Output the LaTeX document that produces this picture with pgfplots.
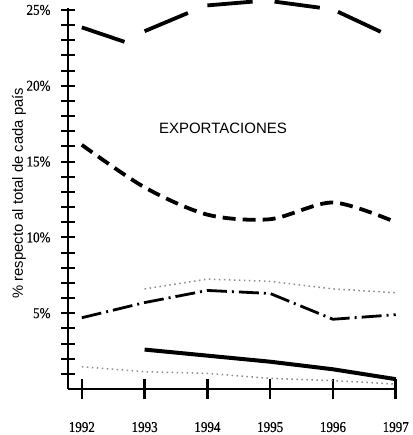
\documentclass[border=0pt]{standalone}
\usepackage{fontspec}
\setmainfont{Liberation Serif}
\newfontfamily\arial{Liberation Sans}
\newfontfamily\tickfont{Liberation Serif}[FakeStretch=0.87,FakeBold=0.4]
\usepackage{pgfplots}
\pgfplotsset{compat=1.18}
\begin{document}
\begin{tikzpicture}
\useasboundingbox (-68pt,-46pt) rectangle (344pt,389pt);
\begin{axis}[
 at={(0pt,0pt)}, anchor=south west,
 scale only axis, width=329pt, height=381pt,
 xmin=1991.78, xmax=1997.02, ymin=0, ymax=25.13,
 axis x line=bottom, axis y line=left,
 axis line style={-, line width=2.6pt},
 xtick={1992,1993,1994,1995,1996,1997},
 xticklabels={1992,1993,1994,1995,1996,1997},
 ytick={5,10,15,20,25},
 yticklabels={5\%,10\%,15\%,20\%,25\%},
 minor ytick={1,2,3,4,6,7,8,9,11,12,13,14,16,17,18,19,21,22,23,24},
 tick align=center,
 major tick length=14pt, minor tick length=14pt,
 xtick style={line width=2.6pt, black, /pgfplots/major tick length=20pt},
 ytick style={line width=2pt, black},
 minor y tick style={line width=2pt, black},
 xticklabel style={font=\tickfont\fontsize{15}{17}\selectfont, yshift=-22.5pt},
 yticklabel style={font=\tickfont\fontsize{15}{17}\selectfont, xshift=-7pt},
 clip=false,
 ylabel={\% respecto al total de cada país},
 ylabel style={font=\arial\fontsize{14.8}{17}\selectfont, at={(axis description cs:-0.149,0.514)}, anchor=center},
]
% long dashes (drawn segment by segment)
\addplot[black, line width=3.8pt, unbounded coords=jump] coordinates {
 (1992,23.85)(1992.68,22.9) (1992.8,nan)
 (1993.0,23.6)(1993.69,24.8) (1993.8,nan)
 (1994.0,25.3)(1994.72,25.55) (1994.9,nan)
 (1995.07,25.55)(1995.79,25.15) (1995.9,nan)
 (1996.08,24.88)(1996.76,23.56)};
% short dashes
\addplot[black, line width=3.8pt, smooth, tension=0.5, dash pattern=on 13pt off 7pt] coordinates {
 (1992,16.1)(1993,13.3)(1994,11.5)(1995,11.2)(1996,12.3)(1997,11.0)};
% dash-dot
\addplot[black, line width=2.8pt, dash pattern=on 20pt off 5pt on 2pt off 5pt] coordinates {
 (1992,4.7)(1993,5.7)(1994,6.5)(1995,6.3)(1996,4.6)(1997,4.9)};
% light dotted upper
\addplot[black!45, line width=1.5pt, dash pattern=on 1.5pt off 3.5pt] coordinates {
 (1993,6.6)(1994,7.25)(1995,7.1)(1996,6.6)(1997,6.35)};
% solid
\addplot[black, line width=4pt] coordinates {
 (1993,2.6)(1994,2.2)(1995,1.8)(1996,1.3)(1997,0.65)};
% light dotted lower
\addplot[black!45, line width=1.5pt, dash pattern=on 1.5pt off 3.5pt] coordinates {
 (1992,1.47)(1993,1.14)(1994,1.03)(1995,0.7)(1996,0.55)(1997,0.33)};
\node[font=\arial\fontsize{15}{17}\selectfont] at (axis description cs:0.471,0.685) {EXPORTACIONES};
\end{axis}
\end{tikzpicture}
\end{document}
